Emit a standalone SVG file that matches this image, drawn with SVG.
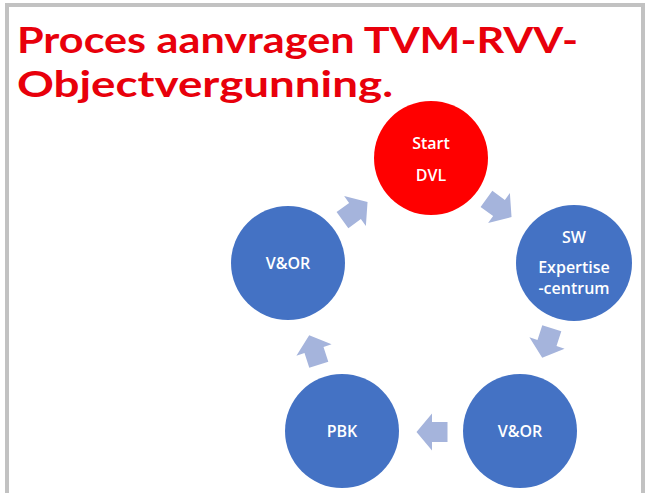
<svg xmlns="http://www.w3.org/2000/svg" width="648" height="493" viewBox="0 0 648 493">
<style>
.frame{fill:#fff;stroke:#c2c2c2;stroke-width:4}
.title{fill:#e8000b;font-family:Lato,"Open Sans",sans-serif;font-weight:700;font-size:36px}
.blue{fill:#4472c4}
.red{fill:#ff0000}
.lbl{fill:#fff;font-family:"Open Sans","Noto Sans",sans-serif;font-size:16px;font-weight:600;text-anchor:middle;dominant-baseline:central}
.arr{fill:#a5b4dc}
</style>
<defs>
<polygon id="blk" points="-15.5,-10 0,-10 0,-18.5 15.5,0 0,18.5 0,10 -15.5,10"/>
</defs>
<rect width="648" height="493" fill="#fff"/>
<rect class="frame" x="7" y="5" width="636" height="500"/>
<g id="title">
<text class="title" x="17" y="53" textLength="561" lengthAdjust="spacingAndGlyphs">Proces aanvragen TVM-RVV-</text>
<text class="title" x="17" y="97" textLength="376" lengthAdjust="spacingAndGlyphs">Objectvergunning.</text>
</g>
<g id="connectors" class="arr">
<use href="#blk" transform="translate(499,208) rotate(36)"/>
<use href="#blk" transform="translate(547,343) rotate(108)"/>
<use href="#blk" transform="translate(432,432) rotate(180)"/>
<use href="#blk" transform="translate(314,350) rotate(252)"/>
<use href="#blk" transform="translate(355,211) rotate(324)"/>
</g>
<g id="node-start">
<circle class="red" cx="431" cy="158" r="57"/>
<text class="lbl" x="431" y="143">Start</text>
<text class="lbl" x="431" y="175">DVL</text>
</g>
<g id="node-sw">
<circle class="blue" cx="574" cy="263" r="58"/>
<text class="lbl" x="574" y="237">SW</text>
<text class="lbl" x="574" y="267">Expertise</text>
<text class="lbl" x="574" y="288">-centrum</text>
</g>
<g id="node-vor-bottom">
<circle class="blue" cx="520" cy="431" r="57"/>
<text class="lbl" x="520" y="431">V&amp;OR</text>
</g>
<g id="node-pbk">
<circle class="blue" cx="342" cy="431" r="57"/>
<text class="lbl" x="342" y="431">PBK</text>
</g>
<g id="node-vor-left">
<circle class="blue" cx="288" cy="263" r="57"/>
<text class="lbl" x="288" y="263">V&amp;OR</text>
</g>
</svg>
